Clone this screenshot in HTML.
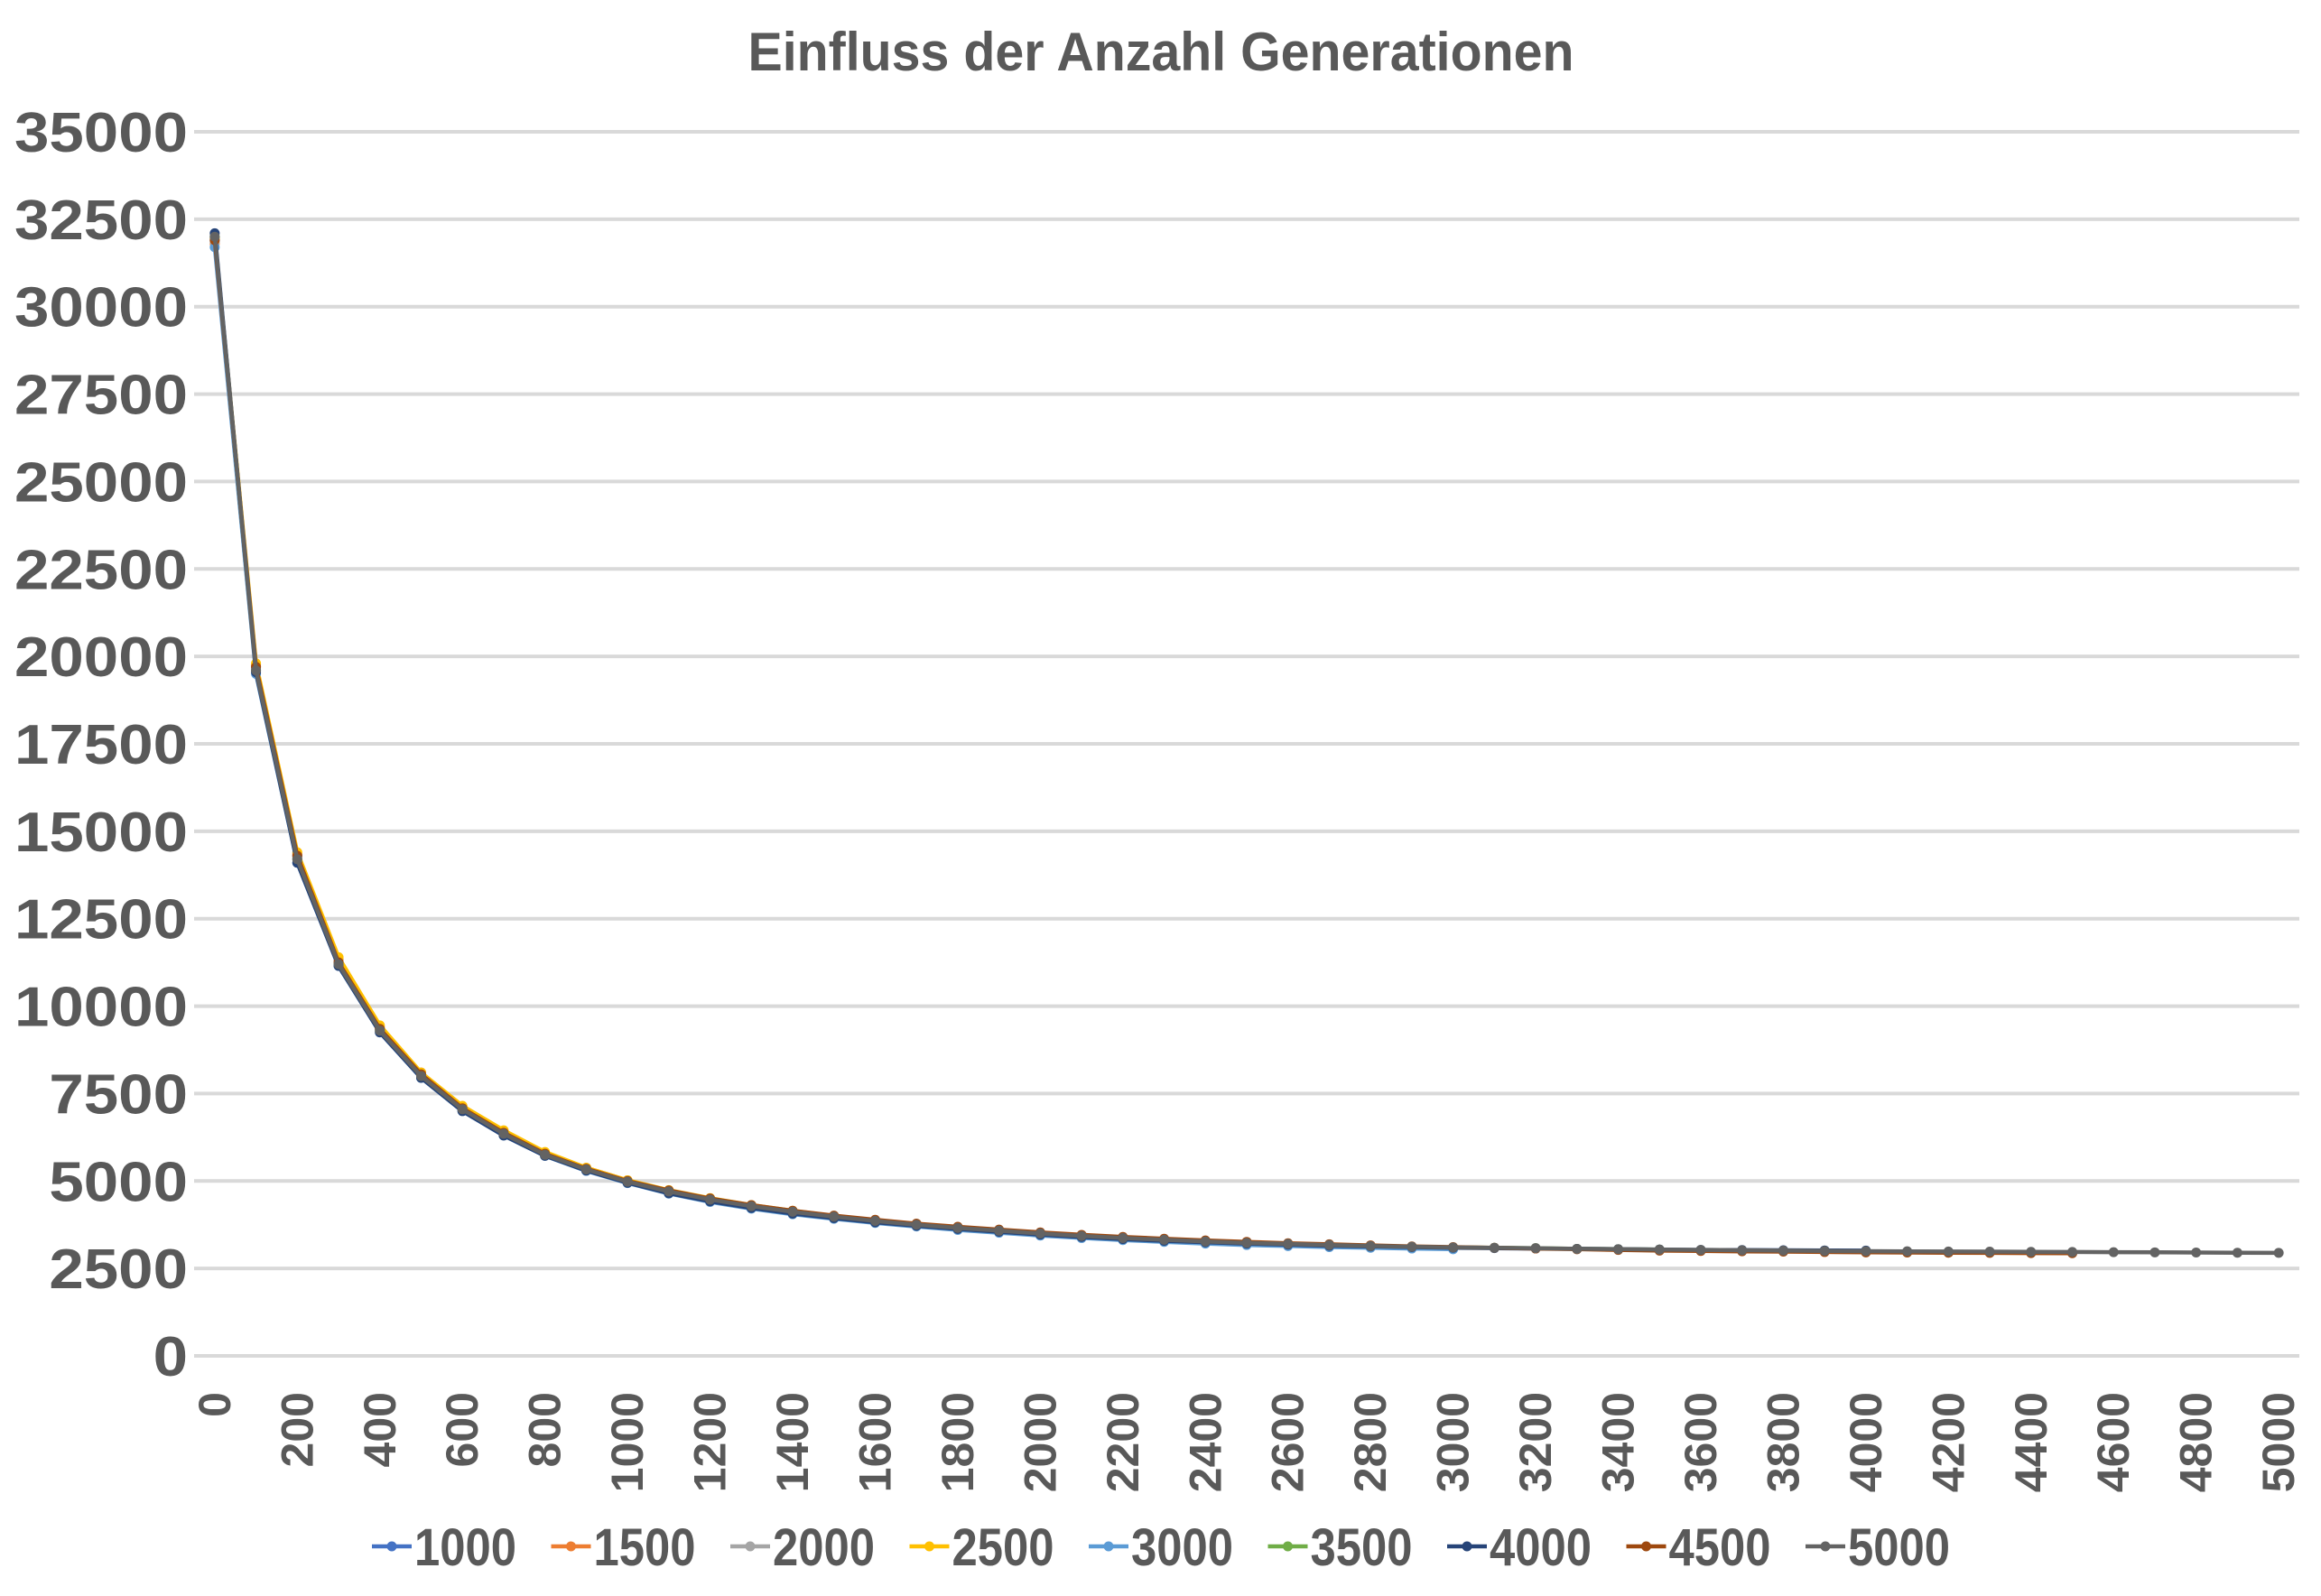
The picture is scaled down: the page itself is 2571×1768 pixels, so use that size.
<!DOCTYPE html>
<html><head><meta charset="utf-8"><style>
html,body{margin:0;padding:0;background:#fff;}
svg{display:block;}
text{font-family:"Liberation Sans",sans-serif;font-weight:bold;fill:#595959;}
</style></head><body>
<svg id="chart" width="2571" height="1768" viewBox="0 0 2571 1768" xmlns="http://www.w3.org/2000/svg">
<rect width="2571" height="1768" fill="#fff"/>
<text x="1286" y="78" text-anchor="middle" font-size="60" textLength="915" lengthAdjust="spacingAndGlyphs">Einfluss der Anzahl Generationen</text>
<g id="grid"></g>
<g id="yaxis"></g>
<g id="xaxis"></g>
<g id="series"></g>
<g id="legend"></g>
</svg>
<script>
const yTicks = [0,2500,5000,7500,10000,12500,15000,17500,20000,22500,25000,27500,30000,32500,35000];
const categories = [0,100,200,300,400,500,600,700,800,900,1000,1100,1200,1300,1400,1500,1600,1700,1800,1900,2000,2100,2200,2300,2400,2500,2600,2700,2800,2900,3000,3100,3200,3300,3400,3500,3600,3700,3800,3900,4000,4100,4200,4300,4400,4500,4600,4700,4800,4900,5000];
const seriesNames = ["1000","1500","2000","2500","3000","3500","4000","4500","5000"];
const seriesColors = ["#4472C4","#ED7D31","#A5A5A5","#FFC000","#5B9BD5","#70AD47","#264478","#9E480E","#636363"];
const s1000 = [31900,19700,14300,11300,9350,8050,7100,6400,5800,5350,4990];
const s1500 = [31800,19750,14350,11350,9400,8100,7100,6400,5800,5380,5020,4720,4500,4300,4130,3990];
const s2000 = [31850,19650,14250,11250,9350,8050,7080,6380,5780,5350,5000,4710,4480,4290,4120,3980,3860,3750,3660,3570,3490];
const s2500 = [31950,19800,14400,11400,9450,8100,7150,6450,5830,5380,5020,4740,4510,4310,4150,4000,3880,3770,3680,3590,3510,3440,3380,3330,3280,3240];
const s3000 = [31700,19500,14100,11150,9250,7950,7000,6300,5720,5290,4940,4640,4400,4210,4050,3920,3800,3700,3600,3520,3440,3370,3310,3260,3210,3170,3140,3110,3090,3070,3050];
const s3500 = [32000,19600,14200,11200,9300,8000,7050,6350,5750,5330,4980,4700,4470,4280,4120,3980,3860,3750,3660,3580,3500,3430,3370,3320,3270,3230,3200,3170,3140,3120,3100,3090,3080,3060,3050,3040];
const s4000 = [32100,19550,14100,11150,9250,7950,7000,6300,5720,5300,4950,4650,4420,4230,4070,3940,3820,3720,3630,3550,3470,3400,3340,3290,3250,3210,3180,3150,3130,3110,3090,3080,3070,3060,3050,3040,3030,3025,3020,3015,3010];
const s4500 = [31900,19700,14300,11250,9350,8050,7080,6380,5780,5350,5000,4730,4500,4310,4150,4010,3890,3780,3690,3610,3530,3460,3400,3350,3300,3260,3220,3190,3160,3130,3110,3090,3070,3050,3030,3010,3000,2990,2980,2970,2960,2955,2950,2945,2940,2935];
const s5000 = [32000,19600,14200,11200,9300,8000,7050,6350,5750,5330,4980,4700,4470,4280,4120,3980,3860,3750,3660,3580,3500,3430,3370,3320,3270,3230,3200,3170,3140,3120,3100,3090,3080,3060,3050,3040,3030,3020,3010,3000,2995,2990,2985,2980,2975,2970,2965,2960,2955,2950,2945];
const seriesData = [s1000,s1500,s2000,s2500,s3000,s3500,s4000,s4500,s5000];

const NS = "http://www.w3.org/2000/svg";
const plotL = 215, plotR = 2547, y0 = 1502, yTop = 146, yMax = 35000;
const band = (plotR - plotL) / categories.length;
function xPos(i){ return plotL + band * (i + 0.5); }
function yPos(v){ return y0 - (v / yMax) * (y0 - yTop); }
function mk(tag, attrs, parent){ const e = document.createElementNS(NS, tag); for (const k in attrs) e.setAttribute(k, attrs[k]); parent.appendChild(e); return e; }

const grid = document.getElementById('grid'), yaxis = document.getElementById('yaxis');
yTicks.forEach(t => {
  const l = mk('line', {x1: plotL, x2: plotR, y1: yPos(t), y2: yPos(t), stroke: '#D9D9D9', 'stroke-width': 4}, grid);
  
  
  const s = String(t);
  const tx = mk('text', {x: 208, y: yPos(t) + 22, 'text-anchor': 'end', 'font-size': 62, textLength: s.length * 38.4, lengthAdjust: 'spacingAndGlyphs'}, yaxis);
  tx.textContent = s;
  
  
});

const xaxis = document.getElementById('xaxis');
categories.forEach((c, i) => {
  if (i % 2 !== 0) return;
  const x = xPos(i) + 17;
  const tx = mk('text', {x: x, y: 1542, 'text-anchor': 'end', 'font-size': 50, transform: 'rotate(-90 ' + x + ' 1542)'}, xaxis);
  tx.textContent = String(c);
  
  
});

const sg = document.getElementById('series');
seriesData.forEach((arr, si) => {
  const g = mk('g', {}, sg);
  
  
  const pts = arr.map((v, i) => xPos(i).toFixed(1) + ',' + yPos(v).toFixed(1)).join(' ');
  const pl = mk('polyline', {points: pts, fill: 'none', stroke: seriesColors[si], 'stroke-width': 4.5, 'stroke-linejoin': 'round'}, g);
  
  
  arr.forEach((v, i) => {
    const c = mk('circle', {cx: xPos(i), cy: yPos(v), r: 5.5, fill: seriesColors[si]}, g);
    
    
  });
});

const lg = document.getElementById('legend');
seriesNames.forEach((n, i) => {
  const x = 412 + i * 198.5, y = 1713;
  const g = mk('g', {}, lg);
  
  
  mk('line', {x1: x, x2: x + 44, y1: y, y2: y, stroke: seriesColors[i], 'stroke-width': 4.5}, g);
  mk('circle', {cx: x + 22, cy: y, r: 5.5, fill: seriesColors[i]}, g);
  const tx = mk('text', {x: x + 47, y: y + 21, 'font-size': 58, textLength: 113, lengthAdjust: 'spacingAndGlyphs'}, g);
  tx.textContent = n;
  
  
});
</script>
</body></html>
